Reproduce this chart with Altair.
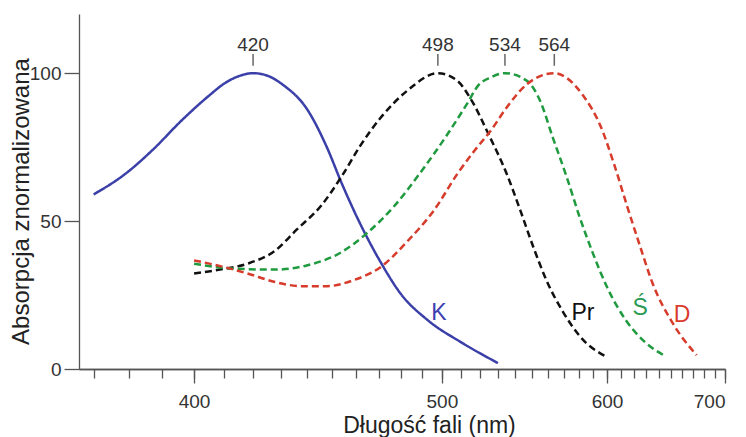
import altair as alt
import pandas as pd

FONT = "Liberation Sans"

# --- data ---
series_names = ["K", "Pr", "Ś", "D"]

k_nm = [370, 379, 387, 396, 405, 410, 415, 420, 425, 431, 440, 448, 454, 462, 471, 480, 493, 510, 530]
k_val = [59, 66, 74, 84, 92.5, 96.5, 99, 100, 99.2, 96, 88, 75, 63, 49, 36, 25.5, 16.5, 9, 2]

pr_nm = [400, 409, 418, 428, 436, 446, 454, 462, 471, 483, 498, 508, 515, 525, 535, 543, 551, 559, 570, 581, 600]
pr_val = [32.3, 33.7, 35.6, 40, 47, 55.5, 65, 75.5, 85, 94, 100, 97.4, 91.3, 79, 66, 53.6, 41, 30, 19, 11, 4]

s_nm = [400, 412, 428, 440, 454, 465, 477, 489, 503, 513, 519, 526, 534, 547, 555, 563, 572, 581, 590, 600, 614, 630, 644]
s_val = [35.6, 34, 33.6, 35, 39.5, 46, 55, 66, 79.5, 89.6, 95.8, 98.6, 100, 97.4, 90.7, 78.3, 65, 51, 39, 27.7, 16.5, 8.7, 4.7]

d_nm = [400, 409, 418, 428, 438, 448, 459, 471, 483, 496, 508, 517, 526, 535, 547, 564, 572, 583, 595, 605, 615, 625, 635, 652, 673]
d_val = [36.7, 34.7, 32.3, 29.4, 28, 28, 30, 34.5, 43, 53.6, 66, 73.8, 80.6, 88.4, 96.3, 100, 98.4, 92.5, 82.5, 69.5, 55, 41.5, 29, 15.4, 4.7]

line_colors = ["#3b3fa8", "#111111", "#1f9a3e", "#d63b2b"]
label_colors = ["#3c40b0", "#111111", "#2a9a55", "#d93c2e"]

label_nm = [498.5, 583, 625, 660]
label_val = [16.5, 16.5, 18.2, 15.8]

peak_nm = [420, 498, 534, 564]

x_major = [400, 500, 600, 700]
x_minor = [370, 380, 390, 400, 410, 420, 430, 440, 450, 460, 470, 480, 490, 500,
           510, 520, 530, 540, 550, 560, 570, 580, 590, 600, 610, 620, 630, 640,
           650, 660, 670, 680, 690, 700]
y_ticks = [0, 50, 100]

rows = []
for name, xs, ys in zip(series_names, [k_nm, pr_nm, s_nm, d_nm], [k_val, pr_val, s_val, d_val]):
    for x, y in zip(xs, ys):
        rows.append({"series": name, "nm": x, "val": y})
curves = pd.DataFrame(rows)
labels_df = pd.DataFrame({"series": series_names, "nm": label_nm, "val": label_val})
peaks_df = pd.DataFrame({"nm": peak_nm, "label": [str(p) for p in peak_nm]})

xscale = alt.Scale(type="pow", exponent=-1, domain=[366, 700], nice=False, zero=False)
yscale = alt.Scale(domain=[0, 120], nice=False, zero=False)

axis_common = dict(domainColor="#555555", tickColor="#555555", domainWidth=1.3,
                   tickWidth=1.3, grid=False, labelFont=FONT, titleFont=FONT)

lines = alt.Chart(curves).mark_line(strokeWidth=2.5, interpolate="monotone").encode(
    x=alt.X("nm:Q", scale=xscale, axis=alt.Axis(
        values=x_major, orient="bottom", tickSize=14, labelPadding=9, labelFontSize=19,
        labelColor="#333333", format="d", title="Długość fali (nm)", titleFontSize=23,
        titleFontWeight="normal", titleColor="#222222", titleX=350, titleY=63,
        titleBaseline="alphabetic", titleAlign="center", **axis_common)),
    y=alt.Y("val:Q", scale=yscale, axis=alt.Axis(
        orient="left", values=y_ticks, tickSize=15, labelPadding=3, labelFontSize=19,
        labelColor="#333333", title="Absorpcja znormalizowana", titleFontSize=24,
        titleFontWeight="normal", titleColor="#222222", titleX=-51, titleY=187,
        titleBaseline="alphabetic", titleAlign="center", **axis_common)),
    color=alt.Color("series:N", scale=alt.Scale(domain=series_names, range=line_colors), legend=None),
    strokeDash=alt.StrokeDash("series:N", scale=alt.Scale(domain=series_names,
                              range=[[1, 0], [7, 4], [7, 4], [7, 4]]), legend=None),
)

curve_labels = alt.Chart(labels_df).mark_text(fontSize=23, font=FONT, baseline="alphabetic", align="center").encode(
    x=alt.X("nm:Q", scale=xscale, axis=alt.Axis(
        values=x_minor, orient="bottom", tickSize=9, labels=False, title=None, **axis_common)),
    y=alt.Y("val:Q", scale=yscale, axis=None),
    text="series:N",
    color=alt.Color("series:N", scale=alt.Scale(domain=series_names, range=label_colors), legend=None),
)

peak_rules = alt.Chart(peaks_df).mark_rule(color="#666666", strokeWidth=1.5).encode(
    x=alt.X("nm:Q", scale=xscale, axis=None),
    y=alt.YDatum(102.5, axis=None),
    y2=alt.Y2Datum(106.5),
)

peak_text = alt.Chart(peaks_df).mark_text(fontSize=19, font=FONT, baseline="alphabetic",
                                          align="center", color="#333333").encode(
    x=alt.X("nm:Q", scale=xscale, axis=None),
    y=alt.YDatum(107.6, axis=None),
    text="label:N",
)

chart = alt.layer(lines, curve_labels, peak_rules, peak_text).resolve_axis(
    x="independent", y="independent"
).resolve_scale(color="independent").properties(
    width=646, height=355,
    padding={"left": 71, "top": 6, "right": 13, "bottom": 68},
    autosize=alt.AutoSizeParams(type="none"),
).configure_view(stroke=None)

chart.save("out.html", embed_options={"renderer": "svg", "actions": False})
